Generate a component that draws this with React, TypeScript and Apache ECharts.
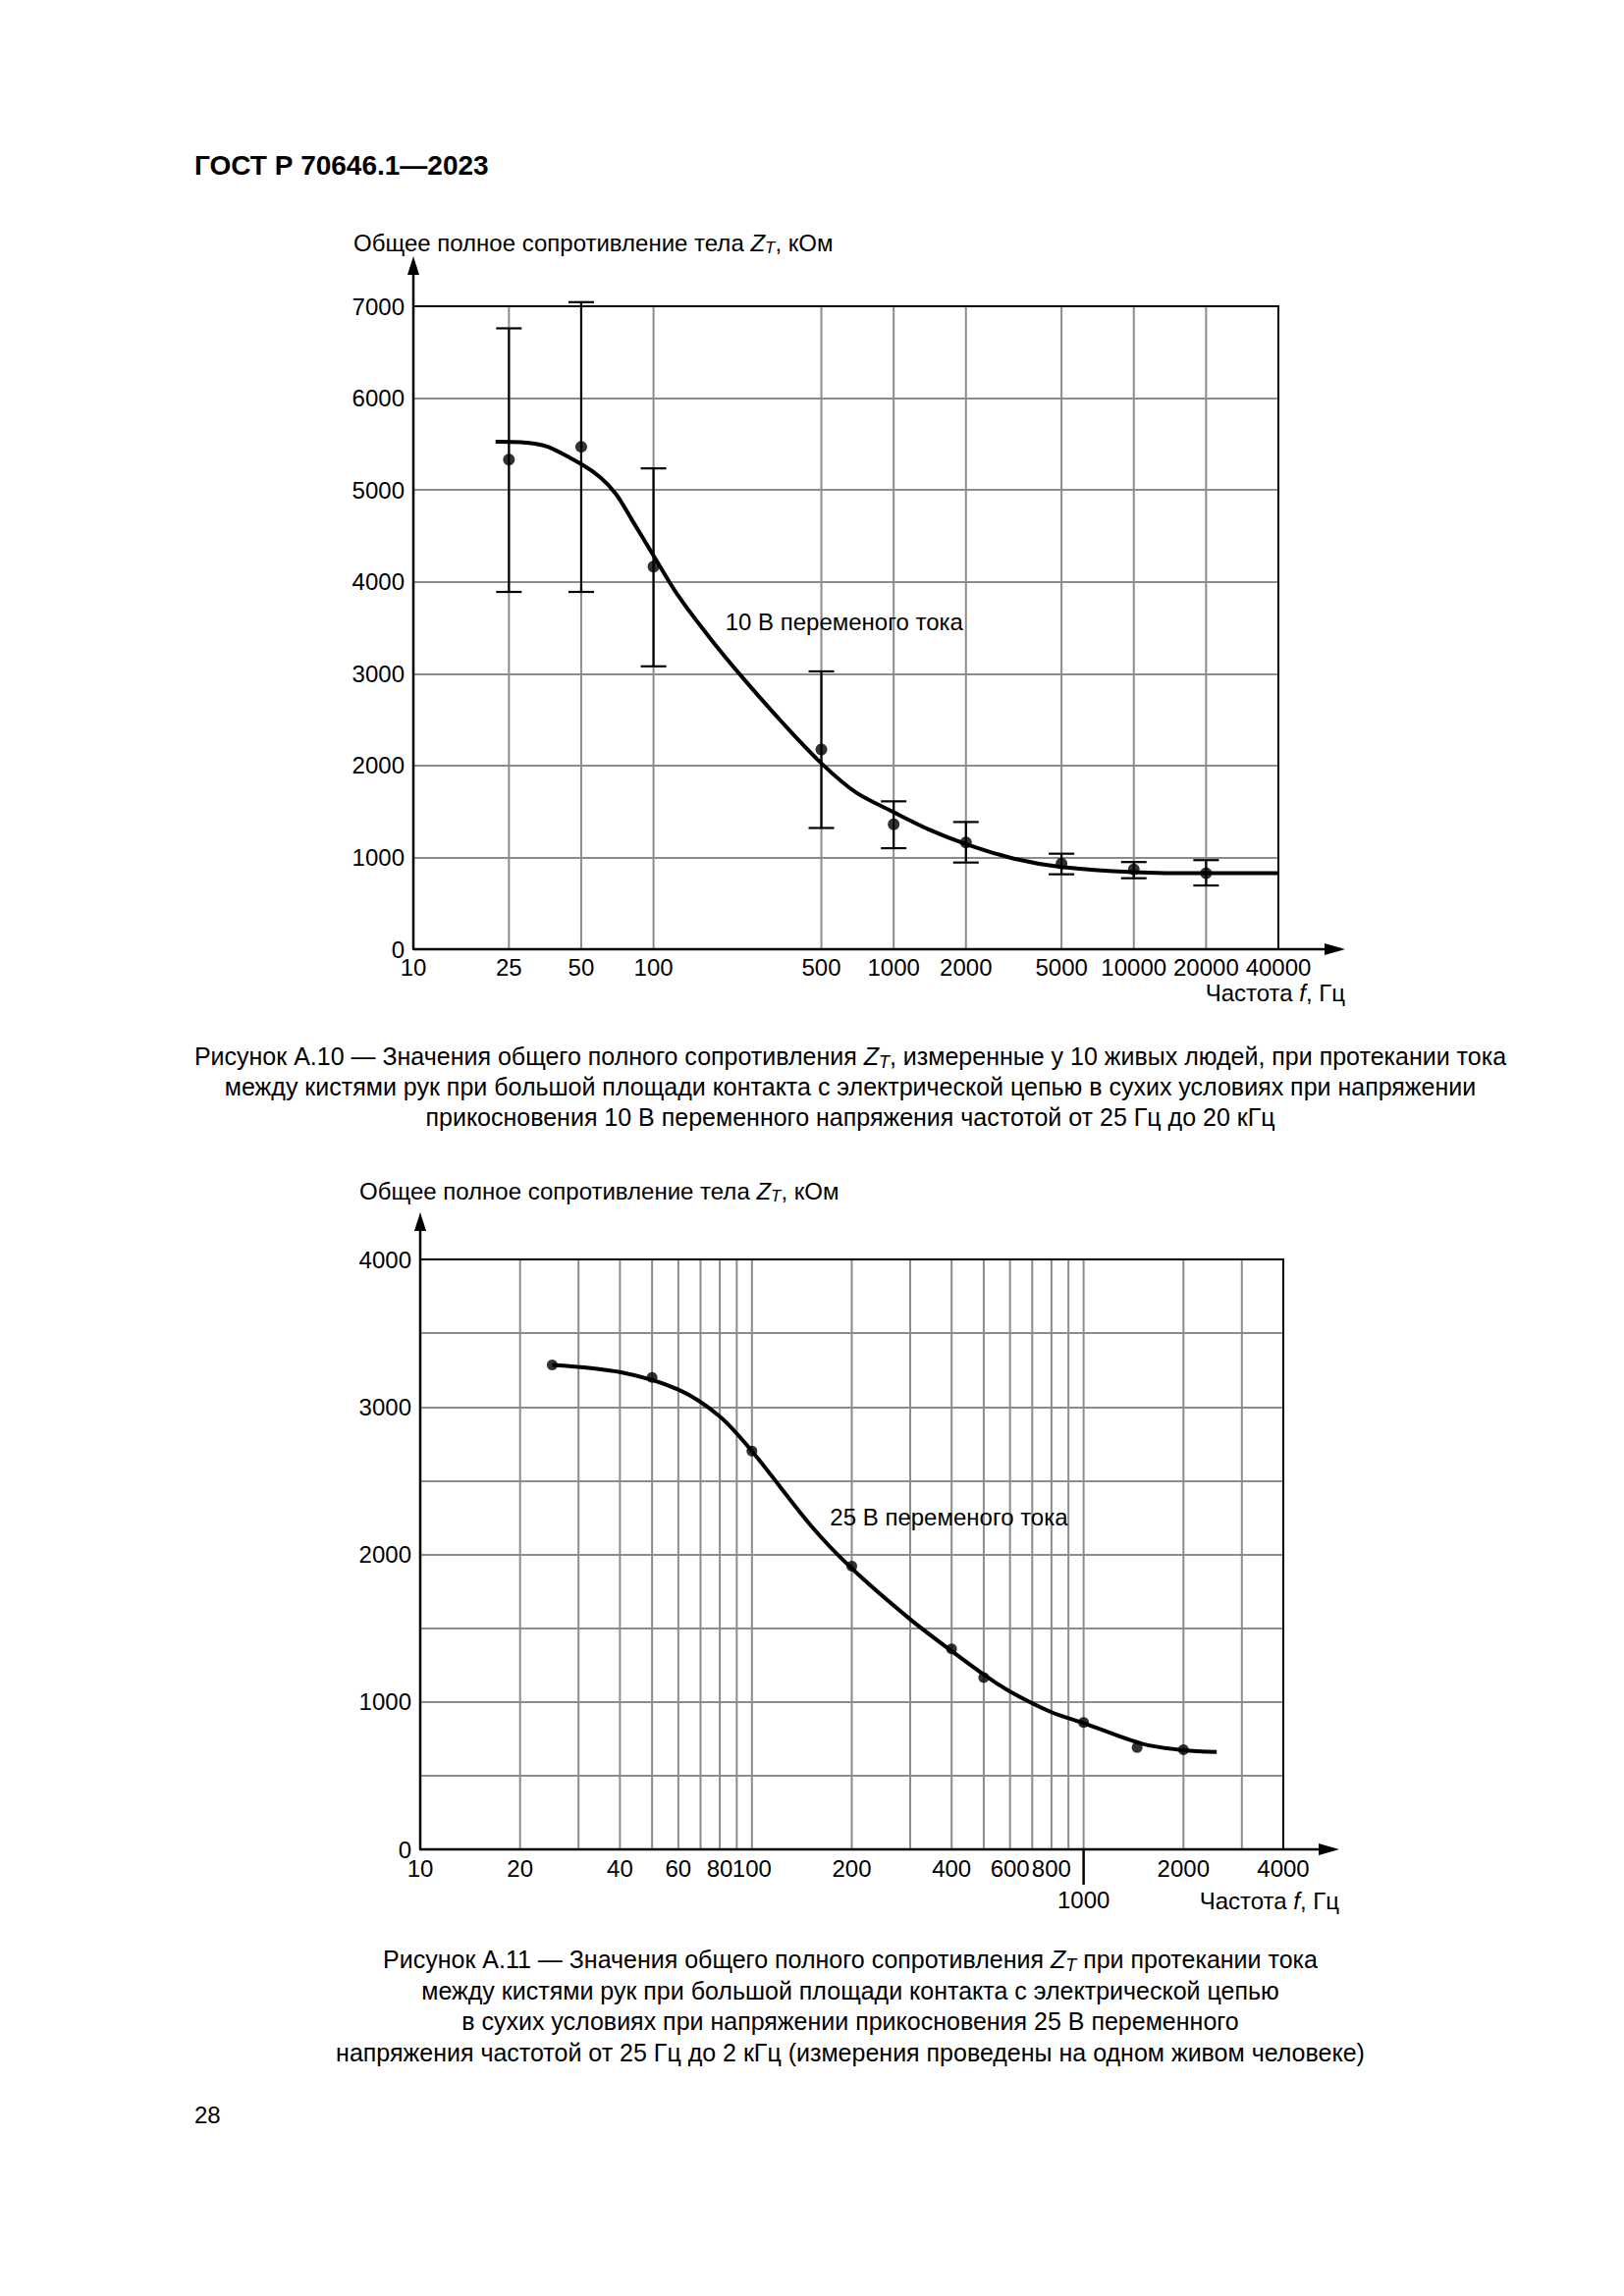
import React, { useEffect, useRef } from "react";
import * as echarts from "echarts";

const FONT = '"Liberation Sans", Arial, Helvetica, sans-serif';
const GRID_C = "#8c8c8c";

// ---------- Figure A.10 ----------
const freq1 = [25, 50, 100, 500, 1000, 2000, 5000, 10000, 20000];
const mean1 = [5330, 5470, 4165, 2175, 1360, 1162, 933, 869, 827];
const low1 = [3890, 3890, 3080, 1320, 1100, 944, 816, 773, 694];
const high1 = [6760, 7045, 5235, 3025, 1610, 1385, 1040, 949, 970];
const curveFreq1 = [22, 28, 36, 50, 60, 70, 82, 100, 127, 174, 239, 349, 500, 698, 1000, 1396, 2000, 3170, 5000, 10000, 20000, 40000];
const curveVal1 = [5526, 5520, 5473, 5281, 5137, 4951, 4658, 4286, 3845, 3370, 2935, 2450, 2024, 1705, 1492, 1306, 1146, 986, 896, 840, 827, 827];
const gridX1 = [25, 50, 100, 500, 1000, 2000, 5000, 10000, 20000];
const tickX1 = [10, 25, 50, 100, 500, 1000, 2000, 5000, 10000, 20000, 40000];
const note1 = [[199, 3566]];
const yMax1 = 7000;

// ---------- Figure A.11 ----------
const freq2 = [25, 50, 100, 200, 400, 500, 1000, 1450, 2000];
const val2 = [3285, 3200, 2700, 1920, 1360, 1165, 860, 690, 675];
const curveFreq2 = [25, 40, 60, 80, 100, 150, 200, 300, 400, 500, 600, 800, 1000, 1500, 2000, 2520];
const curveVal2 = [3285, 3236, 3117, 2935, 2700, 2200, 1905, 1560, 1345, 1185, 1070, 930, 856, 716, 672, 660];
const gridX2 = [20, 30, 40, 50, 60, 70, 80, 90, 100, 200, 300, 400, 500, 600, 700, 800, 900, 1000, 2000, 3000];
const tickX2 = [10, 20, 40, 60, 80, 100, 200, 400, 600, 800, 2000, 4000];
const tickX2Low = [1000];
const note2 = [[172, 2250]];
const yMax2 = 4000;

// ---------- layout ----------
const G1 = { left: 421, top: 312, width: 881, height: 655 };
const G2 = { left: 428, top: 1283, width: 879, height: 601 };
const ARROW1 = { tipX: 1370, tipY: 261 };
const ARROW2 = { tipX: 1364, tipY: 1235 };
const TICK_FS = 24;

function richFor(fs: number) {
  return {
    a: { fontSize: fs, fontFamily: FONT, fill: "#000", lineHeight: fs + 4 },
    i: { fontSize: fs, fontFamily: FONT, fill: "#000", fontStyle: "italic", lineHeight: fs + 4 },
    s: { fontSize: Math.round(fs * 0.7), fontFamily: FONT, fill: "#000", fontStyle: "italic", lineHeight: Math.round(fs * 0.7), padding: [Math.round(fs * 0.55), 0, 0, 0], verticalAlign: "bottom" },
  };
}

function textEl(x: number, y: number, text: string, align = "left", fs = 24, extra: any = {}) {
  return {
    type: "text",
    x,
    y,
    z: 60,
    style: { text, rich: richFor(fs), align, verticalAlign: "middle", fill: "#000", fontSize: fs, fontFamily: FONT, ...extra },
  };
}

function frame(G: any, A: any) {
  const bx = G.left, by = G.top + G.height, r = G.left + G.width;
  return [
    { type: "rect", z: 50, shape: { x: G.left, y: G.top, width: G.width, height: G.height }, style: { fill: "none", stroke: "#000", lineWidth: 2 } },
    { type: "line", z: 51, shape: { x1: bx, y1: by, x2: bx, y2: A.tipY + 12 }, style: { stroke: "#000", lineWidth: 2.5 } },
    { type: "polygon", z: 51, shape: { points: [[bx - 6, A.tipY + 19], [bx + 6, A.tipY + 19], [bx, A.tipY]] }, style: { fill: "#000" } },
    { type: "line", z: 51, shape: { x1: bx, y1: by, x2: A.tipX - 12, y2: by }, style: { stroke: "#000", lineWidth: 2.5 } },
    { type: "polygon", z: 51, shape: { points: [[A.tipX - 21, by - 6], [A.tipX - 21, by + 6], [A.tipX, by]] }, style: { fill: "#000" } },
    { type: "line", z: 51, shape: { x1: r, y1: G.top, x2: r, y2: by }, style: { stroke: "#000", lineWidth: 2 } },
  ];
}

function gridSeries(idx: number, vals: number[], yMax: number) {
  return {
    type: "custom",
    xAxisIndex: idx,
    yAxisIndex: idx,
    z: 1,
    silent: true,
    data: vals.map((v) => [v, 0]),
    renderItem: (_p: any, api: any) => {
      const v = api.value(0);
      const a = api.coord([v, 0]);
      const b = api.coord([v, yMax]);
      return { type: "line", shape: { x1: a[0], y1: a[1], x2: b[0], y2: b[1] }, style: { stroke: GRID_C, lineWidth: 2 } };
    },
  };
}

function tickLabelSeries(idx: number, vals: number[], dy: number, tickLen = 0) {
  return {
    type: "custom",
    xAxisIndex: idx,
    yAxisIndex: idx,
    z: 5,
    silent: true,
    data: vals.map((v) => [v, 0]),
    renderItem: (_p: any, api: any) => {
      const v = api.value(0);
      const p = api.coord([v, 0]);
      const children: any[] = [
        { type: "text", x: p[0], y: p[1] + dy, style: { text: String(v), fill: "#000", fontSize: TICK_FS, fontFamily: FONT, align: "center", verticalAlign: "middle" } },
      ];
      if (tickLen > 0) {
        children.push({ type: "line", shape: { x1: p[0], y1: p[1], x2: p[0], y2: p[1] + tickLen }, style: { stroke: "#000", lineWidth: 2.5 } });
      }
      return { type: "group", children };
    },
  };
}

function noteSeries(idx: number, pts: number[][], text: string) {
  return {
    type: "custom",
    xAxisIndex: idx,
    yAxisIndex: idx,
    z: 6,
    silent: true,
    data: pts,
    renderItem: (_p: any, api: any) => {
      const p = api.coord([api.value(0), api.value(1)]);
      return { type: "text", x: p[0], y: p[1], style: { text, fill: "#000", fontSize: 24, fontFamily: FONT, align: "left", verticalAlign: "middle" } };
    },
  };
}

const yTitle = "{a|Общее полное сопротивление тела }{i|Z}{s|T}{a|, кОм}";
const xTitle = "{a|Частота }{i|f}{a|, Гц}";

const option: any = {
  animation: false,
  backgroundColor: "#fff",
  grid: [
    { ...G1, containLabel: false },
    { ...G2, containLabel: false },
  ],
  xAxis: [
    { type: "log", logBase: 10, gridIndex: 0, min: 10, max: 40000, axisLine: { show: false }, axisTick: { show: false }, axisLabel: { show: false }, splitLine: { show: false } },
    { type: "log", logBase: 10, gridIndex: 1, min: 10, max: 4000, axisLine: { show: false }, axisTick: { show: false }, axisLabel: { show: false }, splitLine: { show: false } },
  ],
  yAxis: [
    {
      type: "value", gridIndex: 0, min: 0, max: yMax1, interval: 1000,
      axisLine: { show: false }, axisTick: { show: false },
      axisLabel: { fontSize: TICK_FS, color: "#000", fontFamily: FONT, margin: 9, formatter: (v: number) => String(v) },
      splitLine: { lineStyle: { color: GRID_C, width: 2 } },
    },
    {
      type: "value", gridIndex: 1, min: 0, max: yMax2, interval: 500,
      axisLine: { show: false }, axisTick: { show: false },
      axisLabel: { fontSize: TICK_FS, color: "#000", fontFamily: FONT, margin: 9, formatter: (v: number) => (v % 1000 === 0 ? String(v) : "") },
      splitLine: { lineStyle: { color: GRID_C, width: 2 } },
    },
  ],
  series: [
    gridSeries(0, gridX1, yMax1),
    tickLabelSeries(0, tickX1, 18),
    {
      type: "custom",
      xAxisIndex: 0,
      yAxisIndex: 0,
      z: 3,
      silent: true,
      encode: { x: 0, y: [1, 2] },
      data: freq1.map((f, i) => [f, low1[i], high1[i]]),
      renderItem: (_p: any, api: any) => {
        const x = api.value(0);
        const pl = api.coord([x, api.value(1)]);
        const ph = api.coord([x, api.value(2)]);
        const hw = 13;
        const st = { stroke: "#000", lineWidth: 2.2 };
        return {
          type: "group",
          children: [
            { type: "line", shape: { x1: pl[0], y1: pl[1], x2: ph[0], y2: ph[1] }, style: st },
            { type: "line", shape: { x1: pl[0] - hw, y1: pl[1], x2: pl[0] + hw, y2: pl[1] }, style: st },
            { type: "line", shape: { x1: ph[0] - hw, y1: ph[1], x2: ph[0] + hw, y2: ph[1] }, style: st },
          ],
        };
      },
    },
    {
      type: "line",
      xAxisIndex: 0,
      yAxisIndex: 0,
      z: 4,
      smooth: 0.3,
      symbol: "none",
      silent: true,
      lineStyle: { color: "#000", width: 4 },
      data: curveFreq1.map((f, i) => [f, curveVal1[i]]),
    },
    {
      type: "scatter",
      xAxisIndex: 0,
      yAxisIndex: 0,
      z: 5,
      symbolSize: 12,
      itemStyle: { color: "#000" },
      data: freq1.map((f, i) => [f, mean1[i]]),
    },
    noteSeries(0, note1, "10 В переменого тока"),

    gridSeries(1, gridX2, yMax2),
    tickLabelSeries(1, tickX2, 19),
    tickLabelSeries(1, tickX2Low, 51, 36),
    {
      type: "line",
      xAxisIndex: 1,
      yAxisIndex: 1,
      z: 4,
      smooth: 0.3,
      symbol: "none",
      silent: true,
      lineStyle: { color: "#000", width: 4 },
      data: curveFreq2.map((f, i) => [f, curveVal2[i]]),
    },
    {
      type: "scatter",
      xAxisIndex: 1,
      yAxisIndex: 1,
      z: 5,
      symbolSize: 11,
      itemStyle: { color: "#000" },
      data: freq2.map((f, i) => [f, val2[i]]),
    },
    noteSeries(1, note2, "25 В переменого тока"),
  ],
  graphic: [
    textEl(198, 168, "ГОСТ Р 70646.1—2023", "left", 28, { fontWeight: "bold" }),
    ...frame(G1, ARROW1),
    ...frame(G2, ARROW2),
    textEl(360, 247, yTitle, "left", 24),
    textEl(366, 1213, yTitle, "left", 24),
    textEl(1370, 1011, xTitle, "right", 24),
    textEl(1364, 1936, xTitle, "right", 24),
    textEl(866, 1076, "{a|Рисунок А.10 — Значения общего полного сопротивления }{i|Z}{s|T}{a|, измеренные у 10 живых людей, при протекании тока}", "center", 25),
    textEl(866, 1107, "{a|между кистями рук при большой площади контакта с электрической цепью в сухих условиях при напряжении}", "center", 25),
    textEl(866, 1138, "{a|прикосновения 10 В переменного напряжения частотой от 25 Гц до 20 кГц}", "center", 25),
    textEl(866, 1996, "{a|Рисунок А.11 — Значения общего полного сопротивления }{i|Z}{s|T}{a| при протекании тока}", "center", 25),
    textEl(866, 2028, "{a|между кистями рук при большой площади контакта с электрической цепью}", "center", 25),
    textEl(866, 2059, "{a|в сухих условиях при напряжении прикосновения 25 В переменного}", "center", 25),
    textEl(866, 2091, "{a|напряжения частотой от 25 Гц до 2 кГц (измерения проведены на одном живом человеке)}", "center", 25),
    textEl(198, 2154, "28", "left", 24),
  ],
};

export default function App() {
  const ref = useRef<HTMLDivElement>(null);
  useEffect(() => {
    const chart = echarts.init(ref.current as HTMLDivElement, null, { renderer: "svg" });
    chart.setOption(option);
    return () => chart.dispose();
  }, []);
  return (
    <div
      ref={ref}
      style={{ position: "absolute", left: 0, top: 0, width: 1654, height: 2339, background: "#fff" }}
    />
  );
}
